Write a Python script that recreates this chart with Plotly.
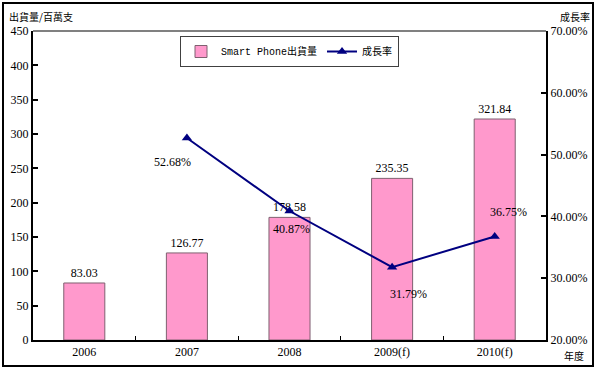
import plotly.graph_objects as go

years = ["2006", "2007", "2008", "2009(f)", "2010(f)"]
shipments = [83.03, 126.77, 178.58, 235.35, 321.84]
growth_years = ["2007", "2008", "2009(f)", "2010(f)"]
growth = [0.5268, 0.4087, 0.3179, 0.3675]
growth_labels = ["52.68%", "40.87%", "31.79%", "36.75%"]
label_shifts = [(-14, -24), (2, -18), (16, -27), (14, 24)]

serif = "Liberation Serif, Times New Roman, serif"
cjk = "Noto Sans CJK TC"

fig = go.Figure()
fig.add_trace(go.Bar(
    x=years, y=shipments, name="Smart Phone出貨量",
    marker=dict(color="#FF99CC", line=dict(color="#7F6070", width=1)),
    width=0.4,
    text=[f"{v:.2f}" for v in shipments], textposition="outside",
    textfont=dict(family=serif, size=12, color="black"),
    cliponaxis=False,
))
fig.add_trace(go.Scatter(
    x=growth_years, y=growth, name="成長率", yaxis="y2",
    mode="lines+markers",
    line=dict(color="#000080", width=2),
    marker=dict(symbol="triangle-up", size=9, color="#000080"),
))

for xv, yv, lab, (dx, dy) in zip(growth_years, growth, growth_labels, label_shifts):
    fig.add_annotation(x=years.index(xv), y=yv, xref="x", yref="y2", text=lab, showarrow=False,
                       xshift=dx, yshift=dy,
                       font=dict(family=serif, size=12, color="black"))

W, H = 598, 370
L, R, T, B = 33, 52, 31, 30
pw, ph = W - L - R, H - T - B

def px(x):
    return (x - L) / pw

def py(y):
    return (H - B - y) / ph

fig.add_annotation(x=px(7), y=py(16), xref="paper", yref="paper", text="出貨量/百萬支",
                   showarrow=False, xanchor="left", yanchor="middle",
                   font=dict(family=cjk, size=10, color="black"))
fig.add_annotation(x=px(558), y=py(16), xref="paper", yref="paper", text="成長率",
                   showarrow=False, xanchor="left", yanchor="middle",
                   font=dict(family=cjk, size=10, color="black"))
fig.add_annotation(x=px(562), y=py(355), xref="paper", yref="paper", text="年度",
                   showarrow=False, xanchor="left", yanchor="middle",
                   font=dict(family=cjk, size=10, color="black"))

# outer frame
fig.add_shape(type="rect", xref="paper", yref="paper",
              x0=px(3), x1=px(593), y0=py(366), y1=py(3),
              line=dict(color="black", width=2), layer="below")
# top border line of plot area
fig.add_shape(type="line", xref="paper", yref="paper", x0=0, x1=1, y0=1, y1=1,
              line=dict(color="#808080", width=2))

fig.update_layout(
    width=W, height=H,
    margin=dict(l=L, r=R, t=T, b=B, autoexpand=False),
    paper_bgcolor="white", plot_bgcolor="white",
    showlegend=True,
    legend=dict(orientation="h", x=px(180), y=py(36), xanchor="left", yanchor="top",
                bordercolor="#404040", borderwidth=1, bgcolor="white",
                font=dict(family="Liberation Mono, " + cjk, size=10, color="black"),
                itemwidth=30, entrywidth=0),
    xaxis=dict(type="category", range=[-0.5, 4.5], autorange=False, automargin=False,
               showline=True, linecolor="black", linewidth=2,
               ticks="inside", tickson="boundaries", ticklen=4, tickcolor="black",
               tickfont=dict(family=serif, size=12, color="black"), tickangle=0,
               showgrid=False, zeroline=False),
    yaxis=dict(range=[0, 450], dtick=50, showline=True, linecolor="black", linewidth=2,
               automargin=False,
               ticks="inside", ticklen=5, tickcolor="black", tickwidth=2,
               tickfont=dict(family=serif, size=12, color="black"),
               showgrid=False, zeroline=False),
    yaxis2=dict(range=[0.2, 0.7], dtick=0.1, tickformat=".2%", overlaying="y", side="right",
                automargin=False,
                showline=True, linecolor="black", linewidth=2,
                ticks="inside", ticklen=5, tickcolor="black", tickwidth=2,
                tickfont=dict(family=serif, size=12, color="black"),
                showgrid=False, zeroline=False),
    bargap=0.6,
)

fig.write_html("out.html", config={"displayModeBar": False},
               post_script="document.body.style.margin='0px';")
